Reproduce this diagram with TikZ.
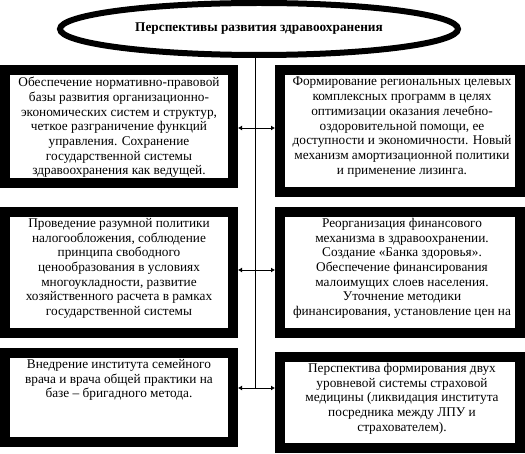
\documentclass[tikz,border=0pt]{standalone}
\usepackage{fontspec}
\setmainfont{Liberation Serif}
\usetikzlibrary{shapes.geometric,arrows.meta}
\begin{document}
\begin{tikzpicture}[x=1pt,y=-1pt,
  box/.style={draw=black,fill=white,line width=10pt,minimum width=#1,inner sep=0pt},
  txt/.style={anchor=north,align=center,inner sep=0pt,font=\fontsize{13.3}{14.7}\selectfont},
  arr/.style={line width=0.8pt,-{Latex[length=4pt,width=5pt]}},
  spine/.style={line width=0.8pt}]
\useasboundingbox (0,0) rectangle (525,454);
% title ellipse
\node[ellipse,draw=black,line width=6pt,minimum width=398pt,minimum height=52pt,inner sep=0pt,
  font=\fontsize{13.3}{14}\selectfont\bfseries] (title) at (259,29) {Перспективы развития здравоохранения};
% boxes (centres in px)
\node[box=228pt,minimum height=113pt] (L1) at (119,126.5) {};
\node[box=240pt,minimum height=122pt] (R1) at (400,131) {};
\node[box=228pt,minimum height=121pt] (L2) at (119,272.5) {};
\node[box=240pt,minimum height=121pt] (R2) at (400,272.5) {};
\node[box=228pt,minimum height=89pt] (L3) at (119,397.5) {};
\node[box=240pt,minimum height=91pt] (R3) at (400,402.5) {};
% texts
\node[txt] (L1t) at (119,77) {Обеспечение нормативно-правовой\\базы развития организационно-\\экономических систем и структур,\\четкое разграничение функций\\управления. Сохранение\\государственной системы\\здравоохранения как ведущей.};
\node[txt] (R1t) at (402,77) {Формирование региональных целевых\\комплексных программ в целях\\оптимизации оказания лечебно-\\оздоровительной помощи, ее\\доступности и экономичности. Новый\\механизм амортизационной политики\\и применение лизинга.};
\node[txt] (L2t) at (119,218) {Проведение разумной политики\\налогообложения, соблюдение\\принципа свободного\\ценообразования в условиях\\многоукладности, развитие\\хозяйственного расчета в рамках\\государственной системы};
\node[txt] (R2t) at (402,218) {Реорганизация финансового\\механизма в здравоохранении.\\Создание «Банка здоровья».\\Обеспечение финансирования\\малоимущих слоев населения.\\Уточнение методики\\финансирования, установление цен на};
\node[txt] (L3t) at (119,359) {Внедрение института семейного\\врача и врача общей практики на\\базе – бригадного метода.};
\node[txt] (R3t) at (402,363) {Перспектива формирования двух\\уровневой системы страховой\\медицины (ликвидация института\\посредника между ЛПУ и\\страхователем).};
% spine
\coordinate (s1) at (255,128);
\coordinate (s2) at (255,270);
\coordinate (s3) at (255,388);
\draw[spine] (s3 |- title.south) -- (s3);
\draw[arr] (s1) -- (s1 -| L1.east);
\draw[arr] (s1) -- (s1 -| R1.west);
\draw[arr] (s2) -- (s2 -| L2.east);
\draw[arr] (s2) -- (s2 -| R2.west);
\draw[arr] (s3) -- (s3 -| L3.east);
\draw[arr] (s3) -- (s3 -| R3.west);
\end{tikzpicture}
\end{document}
